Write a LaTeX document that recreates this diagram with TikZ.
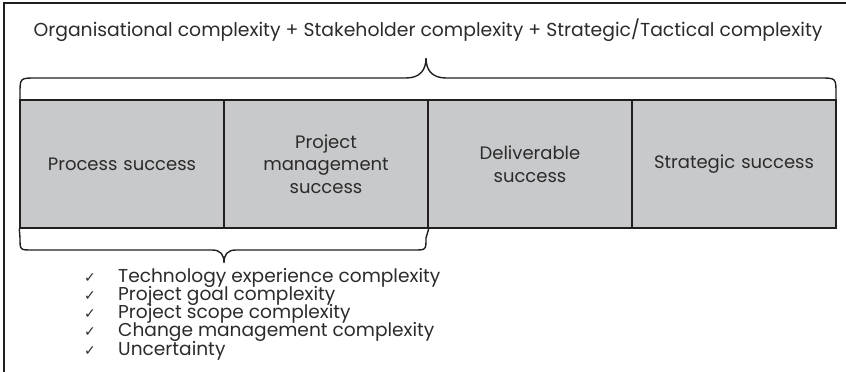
\documentclass[tikz,border=0pt]{standalone}
\usepackage{fontspec}
\setmainfont{Poppins}
\newfontfamily\symfont{DejaVu Sans}
\definecolor{boxgray}{HTML}{C8C9CB}
\definecolor{ink}{HTML}{231F20}
\definecolor{txt}{HTML}{2B2B2B}
\begin{document}
\begin{tikzpicture}[x=1pt,y=-1pt,
  stage/.style={draw=ink,line width=1.4pt,fill=boxgray,minimum width=204pt,minimum height=128pt,
     inner sep=0pt,align=center,text=txt,font=\fontsize{18}{22.5}\selectfont,text width=190pt},
  brace/.style={draw=ink,line width=1.4pt},
  item/.style={anchor=base west,inner sep=0pt,text=txt,font=\fontsize{18.6}{20}\selectfont},
  tick/.style={anchor=base west,inner sep=0pt,text=txt,font=\symfont\fontsize{14}{15}\selectfont}]
\useasboundingbox (0,0) rectangle (846,372);
\draw[ink,line width=1.2pt] (4,372) -- (4,3) -- (846,3);
\node[anchor=base,inner sep=0pt,text=txt,font=\fontsize{18.8}{21}\selectfont] (top) at (428,36)
  {Organisational complexity + Stakeholder complexity + Strategic/Tactical complexity};
\coordinate (tip) at (426,58);
\draw[brace] (20,100) -- (20,94) .. controls (20,78) .. (36,78) -- (406,78)
  .. controls (420,78) and (426,70) .. (tip) .. controls (426,70) and (432,78) .. (446,78)
  -- (820,78) .. controls (836,78) .. (836,94) -- (836,100);
\node[stage] (ps) at (122,164) {Process success};
\node[stage] (pm) at (326,164) {Project\\management\\success};
\node[stage] (ds) at (530,164) {Deliverable\\success};
\node[stage] (ss) at (734,164) {Strategic success};
\coordinate (tip2) at (224,263);
\draw[brace] (ps.south west) -- (20,238) .. controls (20,250) .. (32,250) -- (212,250)
  .. controls (221,250) and (224,255) .. (tip2) .. controls (224,255) and (227,250) .. (236,250)
  -- (414,250) .. controls (426,250) .. (426,238) -- (pm.south east);
\foreach \t [count=\i from 0] in {Technology experience complexity,Project goal complexity,Project scope complexity,Change management complexity,Uncertainty}{
  \node[tick] (c\i) at (84,282+18.3*\i) {✓};
  \node[item] (l\i) at (118,282+18.3*\i) {\t};
}
\end{tikzpicture}
\end{document}
